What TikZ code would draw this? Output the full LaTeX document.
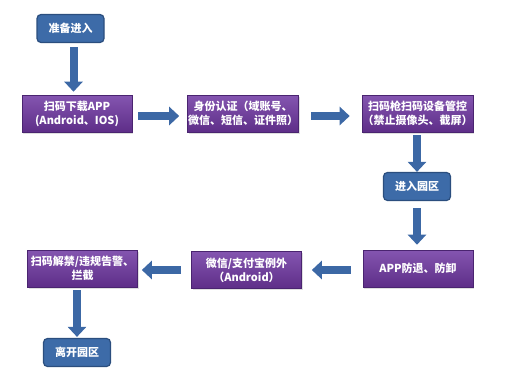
\documentclass[tikz,border=0pt]{standalone}
\usepackage{fontspec}
\newfontfamily\cjk{Noto Sans CJK SC}
\usetikzlibrary{arrows.meta, shadows}

\definecolor{endblue}{HTML}{3D6BA8}
\definecolor{endedge}{HTML}{2B4E7E}
\definecolor{procTop}{HTML}{8455B0}
\definecolor{procBot}{HTML}{5E2E88}
\definecolor{procEdge}{HTML}{4A2470}
\definecolor{flowblue}{HTML}{3C68A5}

\begin{document}
\begin{tikzpicture}[x=1pt, y=-1pt,
      lbl/.style={font=\cjk\bfseries\fontsize{11}{14}\selectfont, text=white, align=center, inner sep=0.5pt},
      endbox/.style={lbl, draw=endedge, fill=endblue, line width=1.2pt, rounded corners=4pt,
                     minimum width=67pt, minimum height=28pt},
      proc/.style={lbl, draw=procEdge, line width=0.6pt, top color=procTop, bottom color=procBot,
                   minimum width=110pt, minimum height=37pt,
                   drop shadow={shadow xshift=1.2pt, shadow yshift=-1.5pt, opacity=0.25}},
      flow/.style={draw=flowblue, line width=8pt, -{Triangle[width=18pt, length=10pt]}}]

    \useasboundingbox (0,0) rectangle (518,388);

    % --- Row 0: start ---
    \node[endbox] (start) at (70.5, 28.5) {准备进入};

    % --- Row 1: download, identity, scanner control ---
    \node[proc] (dl)   at (77, 113.5)    {扫码下载APP\\(Android、IOS)};
    \node[proc] (auth) at (243, 113.5)   {身份认证（域账号、\\微信、短信、证件照）};
    \node[proc] (scan) at (417.5, 113.5) {扫码枪扫码设备管控\\（禁止摄像头、截屏）};

    % --- enter park ---
    \node[endbox] (enter) at (417, 186.5) {进入园区};

    % --- Row 2: protection, exception, release ---
    \node[proc] (guard) at (418, 268.5)  {APP防退、防卸};
    \node[proc] (wx)    at (246.5, 270)  {微信/支付宝例外\\（Android）};
    \node[proc] (ban)   at (82.5, 268.5) {扫码解禁/违规告警、\\拦截};

    % --- leave park ---
    \node[endbox] (leave) at (77, 352.5) {离开园区};

    % ======= FLOW =======
    \draw[flow, shorten <=4pt, shorten >=3pt]
        ([xshift=3pt]start.south) -- ([xshift=3pt]start.south |- dl.north);
    \draw[flow, shorten <=6pt, shorten >=8pt]
        ([yshift=-2.5pt]dl.east) -- ([yshift=-2.5pt]dl.east -| auth.west);
    \draw[flow, shorten <=12pt, shorten >=12pt]
        ([yshift=-2.5pt]auth.east) -- ([yshift=-2.5pt]auth.east -| scan.west);
    \draw[flow, shorten <=3pt] (enter.north |- scan.south) -- (enter.north);
    \draw[flow, shorten <=7pt, shorten >=5pt] (enter.south) -- (enter.south |- guard.north);

    % return row goes left
    \draw[flow, shorten <=12pt, shorten >=10pt] (guard.west |- wx.east) -- (wx.east);
    \draw[flow, shorten <=10pt, shorten >=4pt] (wx.west) -- (wx.west -| ban.east);
    \draw[flow, shorten <=3pt, shorten >=1pt] (leave.north |- ban.south) -- (leave.north);

\end{tikzpicture}
\end{document}
